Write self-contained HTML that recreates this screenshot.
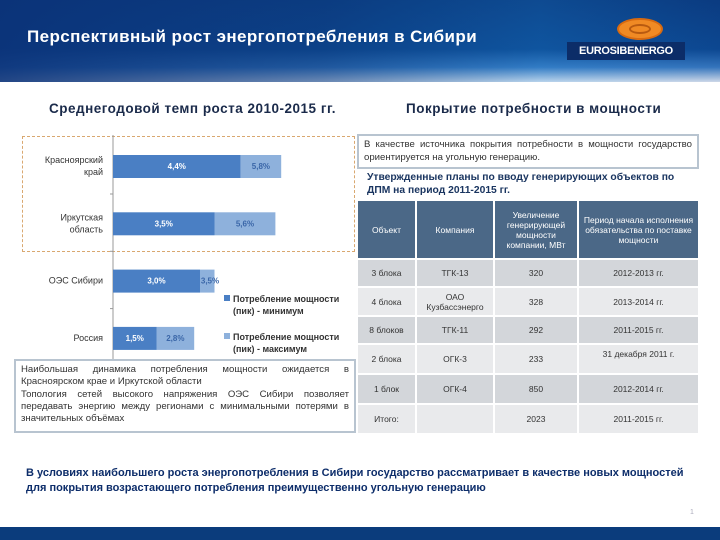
<!DOCTYPE html>
<html><head><meta charset="utf-8">
<style>
*{margin:0;padding:0;box-sizing:border-box}
body{width:720px;height:540px;position:relative;background:#fff;font-family:"Liberation Sans","DejaVu Sans",sans-serif;overflow:hidden}
.abs{position:absolute}
#hdr{left:0;top:0;width:720px;height:82px;background:linear-gradient(180deg,#0b3b7e 0%,#0d4a92 60%,#3f82c8 82%,#ffffff 100%)}
#hdr2{left:0;top:0;width:720px;height:82px;background:linear-gradient(90deg,rgba(11,50,120,0.9) 0%,rgba(11,60,130,0.6) 45%,rgba(20,110,190,0.3) 75%,rgba(10,60,140,0.2) 100%)}
table{border-collapse:collapse}
td{font-size:8.5px;color:#333;text-align:center;border:2px solid #fff}
</style></head><body>
<div id="hdr" class="abs"></div>
<div id="hdr2" class="abs"></div>
<div class="abs" style="left:27px;top:27px;color:#fff;font-size:17px;font-weight:bold;letter-spacing:0.4px">Перспективный рост энергопотребления в Сибири</div>
<div class="abs" style="left:617px;top:18px;width:46px;height:22px;border-radius:50%;background:#f08a24;border:2px solid #d86a10"><div style="margin:4px 10px;height:10px;border:2px solid #b85a10;border-radius:50%"></div></div>
<div class="abs" style="left:567px;top:42px;width:118px;height:18px;background:#0c2d68;color:#fff;font-size:11px;font-weight:bold;text-align:center;line-height:18px;letter-spacing:-0.3px">EUROSIBENERGO</div>

<div class="abs" style="left:49px;top:101px;font-size:13.5px;font-weight:bold;color:#1a2a4a;letter-spacing:0.5px">Среднегодовой темп роста 2010-2015 гг.</div>
<div class="abs" style="left:406px;top:101px;font-size:13.5px;font-weight:bold;color:#1a2a4a;letter-spacing:0.5px">Покрытие потребности в мощности</div>

<div class="abs" style="left:22px;top:136px;width:333px;height:116px;border:1px dashed #d9a870"></div>
<svg class="abs" style="left:0;top:0" width="360" height="360" id="chart"></svg>

<div class="abs" style="left:14px;top:359px;width:342px;height:74px;border:2px solid #b8c4d0;padding:3px 5px;font-size:9.6px;color:#333;line-height:12.3px;text-align:justify;background:#fff">Наибольшая динамика потребления мощности ожидается в Красноярском крае и Иркутской области<br>Топология сетей высокого напряжения ОЭС Сибири позволяет передавать энергию между регионами с минимальными потерями в значительных объёмах</div>

<div class="abs" style="left:357px;top:134px;width:342px;height:35px;border:2px solid #b8c4d0;padding:3px 5px;font-size:9.6px;color:#333;line-height:12.5px;text-align:justify">В качестве источника покрытия потребности в мощности государство ориентируется на угольную генерацию.</div>
<div class="abs" style="left:367px;top:172px;width:330px;font-size:10.3px;font-weight:bold;color:#1a3560;line-height:12.5px">Утвержденные планы по вводу генерирующих объектов по ДПМ на период 2011-2015 гг.</div>

<table class="abs" style="left:356px;top:199px;width:344px">
<tr style="height:59px;background:#4b6887"><td style="width:59px;color:#fff">Объект</td><td style="width:78px;color:#fff">Компания</td><td style="width:84px;color:#fff">Увеличение генерирующей мощности компании, МВт</td><td style="color:#fff">Период начала исполнения обязательства по поставке мощности</td></tr>
<tr style="height:28px;background:#d3d6da"><td>3 блока</td><td>ТГК-13</td><td>320</td><td>2012-2013 гг.</td></tr>
<tr style="height:29px;background:#e9eaec"><td>4 блока</td><td>ОАО Кузбассэнерго</td><td>328</td><td>2013-2014 гг.</td></tr>
<tr style="height:28px;background:#d3d6da"><td>8 блоков</td><td>ТГК-11</td><td>292</td><td>2011-2015 гг.</td></tr>
<tr style="height:30px;background:#e9eaec"><td>2 блока</td><td>ОГК-3</td><td>233</td><td style="vertical-align:top;padding-top:4px">31 декабря 2011 г.</td></tr>
<tr style="height:30px;background:#d3d6da"><td>1 блок</td><td>ОГК-4</td><td>850</td><td>2012-2014 гг.</td></tr>
<tr style="height:30px;background:#e9eaec"><td>Итого:</td><td></td><td>2023</td><td>2011-2015 гг.</td></tr>
</table>

<div class="abs" style="left:26px;top:466px;width:670px;font-size:11px;font-weight:bold;color:#0d2d6a;line-height:15px">В условиях наибольшего роста энергопотребления в Сибири государство рассматривает в качестве новых мощностей для покрытия возрастающего потребления преимущественно угольную генерацию</div>
<div class="abs" style="left:690px;top:509px;font-size:7px;color:#aab">1</div>
<div class="abs" style="left:0;top:527px;width:720px;height:13px;background:#0b3c7c"></div>

<script>
const categories=["Красноярский край","Иркутская область","ОЭС Сибири","Россия"];
const minValues=[4.4,3.5,3.0,1.5];
const maxValues=[5.8,5.6,3.5,2.8];
const minLabels=["4,4%","3,5%","3,0%","1,5%"];
const maxLabels=["5,8%","5,6%","3,5%","2,8%"];
const svg=document.getElementById('chart');
const NS='http://www.w3.org/2000/svg';
const x0=113,pxPer=29;
function xs(v){return x0+v*pxPer;}
function yc(i){return 166+i*57.3;}
function mk(t,a){const e=document.createElementNS(NS,t);for(const k in a)e.setAttribute(k,a[k]);svg.appendChild(e);return e;}
const ax=mk('line',{x1:x0,y1:135,x2:x0,y2:360,stroke:'#999','stroke-width':1});


categories.forEach((c,i)=>{
  const y=yc(i);
  const b1=mk('rect',{x:xs(0),y:y-11,width:xs(minValues[i])-xs(0),height:23,fill:'#4a7fc4'});
  
  
  const b2=mk('rect',{x:xs(minValues[i]),y:y-11,width:xs(maxValues[i])-xs(minValues[i]),height:23,fill:'#8eb1dc'});
  
  
  const t1=mk('text',{x:(xs(0)+xs(minValues[i]))/2,y:y+3,'text-anchor':'middle','font-size':8,'font-weight':'bold',fill:'#fff'});
  t1.textContent=minLabels[i];
  
  
  const t2=mk('text',{x:Math.max((xs(minValues[i])+xs(maxValues[i]))/2,xs(minValues[i])+10),y:y+3,'text-anchor':'middle','font-size':8,'font-weight':'bold',fill:'#3a66a8'});
  t2.textContent=maxLabels[i];
  
  
  const parts=c.split(' ');
  const lines=(parts.length>1&&c!=="ОЭС Сибири")?parts:[c];
  lines.forEach((l,j)=>{
    const tl=mk('text',{x:103,y:y+3+(j-(lines.length-1)/2)*12,'text-anchor':'end','font-size':9,fill:'#333'});
    tl.textContent=l;
    
    
  });
  if(i<3){const tk=mk('line',{x1:x0-3,y1:y+28,x2:x0,y2:y+28,stroke:'#999'});
  
  }
});
const leg=[["#4a7fc4","Потребление мощности","(пик) - минимум",302],["#8eb1dc","Потребление мощности","(пик) - максимум",340]];
leg.forEach(l=>{
  const r=mk('rect',{x:224,y:l[3]-7,width:6,height:6,fill:l[0]});
  
  
  const t=mk('text',{x:233,y:l[3],'font-size':9,'font-weight':'bold',fill:'#333'});t.textContent=l[1];
  
  
  const t2=mk('text',{x:233,y:l[3]+12,'font-size':9,'font-weight':'bold',fill:'#333'});t2.textContent=l[2];
  
  
});
</script>
</body></html>
